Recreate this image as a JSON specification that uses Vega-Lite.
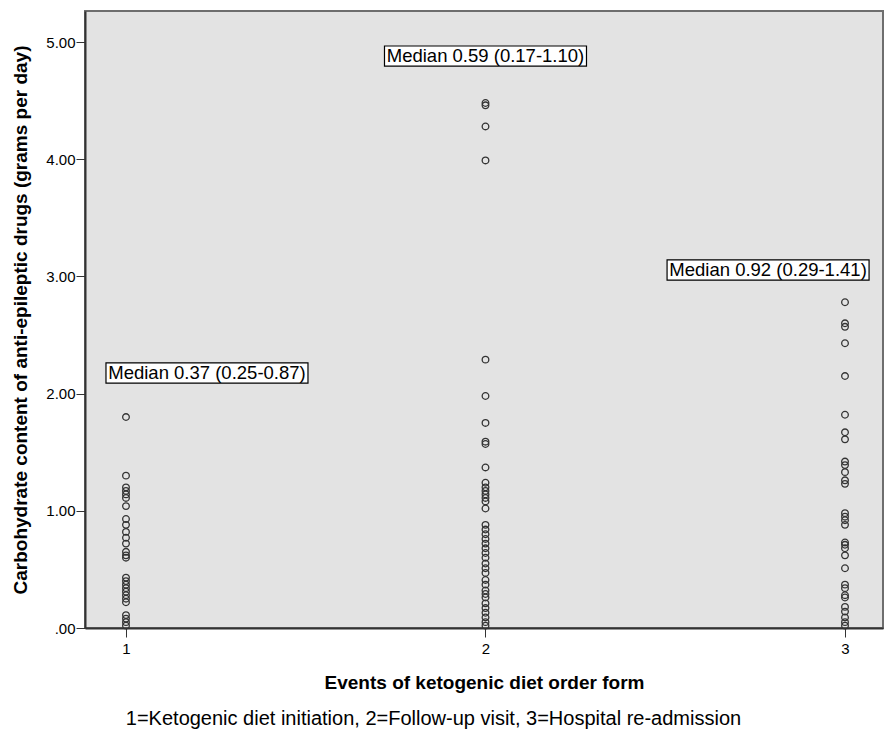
{
  "$schema": "https://vega.github.io/schema/vega-lite/v6.json",
  "autosize": "none",
  "width": 798,
  "height": 617,
  "padding": {"left": 85, "top": 11, "right": 1, "bottom": 110},
  "background": "white",
  "config": {
    "view": {"fill": "#e3e3e3", "stroke": "#6e6e6e", "strokeWidth": 2},
    "font": "Liberation Sans"
  },
  "title": {
    "text": "1=Ketogenic diet initiation, 2=Follow-up visit, 3=Hospital re-admission",
    "orient": "bottom",
    "anchor": "start",
    "dx": 114,
    "offset": 17,
    "fontSize": 20,
    "fontWeight": "normal",
    "font": "Liberation Sans",
    "color": "#000"
  },
  "datasets": {
    "pts": [
      {"event": 1, "carb": 1.80}, {"event": 1, "carb": 1.30}, {"event": 1, "carb": 1.20}, {"event": 1, "carb": 1.17},
      {"event": 1, "carb": 1.14}, {"event": 1, "carb": 1.11}, {"event": 1, "carb": 1.04}, {"event": 1, "carb": 0.93},
      {"event": 1, "carb": 0.88}, {"event": 1, "carb": 0.82}, {"event": 1, "carb": 0.77}, {"event": 1, "carb": 0.72},
      {"event": 1, "carb": 0.65}, {"event": 1, "carb": 0.62}, {"event": 1, "carb": 0.60}, {"event": 1, "carb": 0.43},
      {"event": 1, "carb": 0.40}, {"event": 1, "carb": 0.37}, {"event": 1, "carb": 0.34}, {"event": 1, "carb": 0.31},
      {"event": 1, "carb": 0.28}, {"event": 1, "carb": 0.25}, {"event": 1, "carb": 0.22}, {"event": 1, "carb": 0.11},
      {"event": 1, "carb": 0.08}, {"event": 1, "carb": 0.05}, {"event": 1, "carb": 0.02},
      {"event": 2, "carb": 4.48}, {"event": 2, "carb": 4.46}, {"event": 2, "carb": 4.28}, {"event": 2, "carb": 3.99},
      {"event": 2, "carb": 2.29}, {"event": 2, "carb": 1.98}, {"event": 2, "carb": 1.75}, {"event": 2, "carb": 1.59},
      {"event": 2, "carb": 1.57}, {"event": 2, "carb": 1.37}, {"event": 2, "carb": 1.24}, {"event": 2, "carb": 1.20},
      {"event": 2, "carb": 1.17}, {"event": 2, "carb": 1.14}, {"event": 2, "carb": 1.11}, {"event": 2, "carb": 1.08},
      {"event": 2, "carb": 1.02}, {"event": 2, "carb": 0.88}, {"event": 2, "carb": 0.84}, {"event": 2, "carb": 0.80},
      {"event": 2, "carb": 0.76}, {"event": 2, "carb": 0.72}, {"event": 2, "carb": 0.68}, {"event": 2, "carb": 0.64},
      {"event": 2, "carb": 0.60}, {"event": 2, "carb": 0.55}, {"event": 2, "carb": 0.51}, {"event": 2, "carb": 0.47},
      {"event": 2, "carb": 0.41}, {"event": 2, "carb": 0.37}, {"event": 2, "carb": 0.32}, {"event": 2, "carb": 0.29},
      {"event": 2, "carb": 0.26}, {"event": 2, "carb": 0.21}, {"event": 2, "carb": 0.17}, {"event": 2, "carb": 0.13},
      {"event": 2, "carb": 0.09}, {"event": 2, "carb": 0.05}, {"event": 2, "carb": 0.02},
      {"event": 3, "carb": 2.78}, {"event": 3, "carb": 2.60}, {"event": 3, "carb": 2.57}, {"event": 3, "carb": 2.43},
      {"event": 3, "carb": 2.15}, {"event": 3, "carb": 1.82}, {"event": 3, "carb": 1.67}, {"event": 3, "carb": 1.61},
      {"event": 3, "carb": 1.42}, {"event": 3, "carb": 1.39}, {"event": 3, "carb": 1.33}, {"event": 3, "carb": 1.26},
      {"event": 3, "carb": 1.23}, {"event": 3, "carb": 0.98}, {"event": 3, "carb": 0.95}, {"event": 3, "carb": 0.92},
      {"event": 3, "carb": 0.88}, {"event": 3, "carb": 0.73}, {"event": 3, "carb": 0.71}, {"event": 3, "carb": 0.68},
      {"event": 3, "carb": 0.62}, {"event": 3, "carb": 0.51}, {"event": 3, "carb": 0.37}, {"event": 3, "carb": 0.34},
      {"event": 3, "carb": 0.28}, {"event": 3, "carb": 0.26}, {"event": 3, "carb": 0.18}, {"event": 3, "carb": 0.14},
      {"event": 3, "carb": 0.09}, {"event": 3, "carb": 0.05}, {"event": 3, "carb": 0.02}
    ],
    "labels": [
      {"lx": 1.2253, "ly": 2.176, "label": "Median 0.37 (0.25-0.87)"},
      {"lx": 2.0, "ly": 4.88, "label": "Median 0.59 (0.17-1.10)"},
      {"lx": 2.786, "ly": 3.055, "label": "Median 0.92 (0.29-1.41)"}
    ]
  },
  "layer": [
    {
      "data": {"name": "pts"},
      "mark": {"type": "point", "shape": "circle", "filled": false, "size": 44, "stroke": "#333333", "strokeWidth": 1.3, "opacity": 1},
      "encoding": {
        "x": {
          "field": "event", "type": "quantitative",
          "scale": {"domain": [0.886, 3.1057], "nice": false, "zero": false},
          "axis": {
            "values": [1, 2, 3], "format": "d", "title": "Events of ketogenic diet order form",
            "grid": false, "tickSize": 9, "tickColor": "#333", "domainColor": "#333", "domainWidth": 2,
            "labelFontSize": 15, "labelColor": "#000", "labelPadding": 4,
            "titleFontSize": 19, "titleFont": "Liberation Sans", "titleFontWeight": "bold", "titleColor": "#000", "titlePadding": 17
          }
        },
        "y": {
          "field": "carb", "type": "quantitative",
          "scale": {"domain": [0, 5.265], "nice": false, "zero": true},
          "axis": {
            "values": [0, 1, 2, 3, 4, 5],
            "labelExpr": "datum.value == 0 ? '.00' : format(datum.value, '.2f')",
            "title": "Carbohydrate content of anti-epileptic drugs (grams per day)",
            "grid": false, "tickSize": 9, "tickColor": "#333", "domainColor": "#333", "domainWidth": 2,
            "labelFontSize": 15, "labelColor": "#000", "labelPadding": 1,
            "titleFontSize": 19, "titleFont": "Liberation Sans", "titleFontWeight": "bold", "titleColor": "#000", "titlePadding": 15
          }
        }
      }
    },
    {
      "data": {"name": "labels"},
      "mark": {"type": "point", "shape": "M-1,-0.1H1V0.1H-1Z", "size": 40804, "filled": true, "fill": "white", "stroke": "#000", "strokeWidth": 1.2, "opacity": 1},
      "encoding": {
        "x": {"field": "lx", "type": "quantitative"},
        "y": {"field": "ly", "type": "quantitative"}
      }
    },
    {
      "data": {"name": "labels"},
      "mark": {"type": "text", "fontSize": 18.5, "font": "Liberation Sans", "color": "#000", "baseline": "middle", "align": "center"},
      "encoding": {
        "x": {"field": "lx", "type": "quantitative"},
        "y": {"field": "ly", "type": "quantitative"},
        "text": {"field": "label"}
      }
    }
  ]
}
